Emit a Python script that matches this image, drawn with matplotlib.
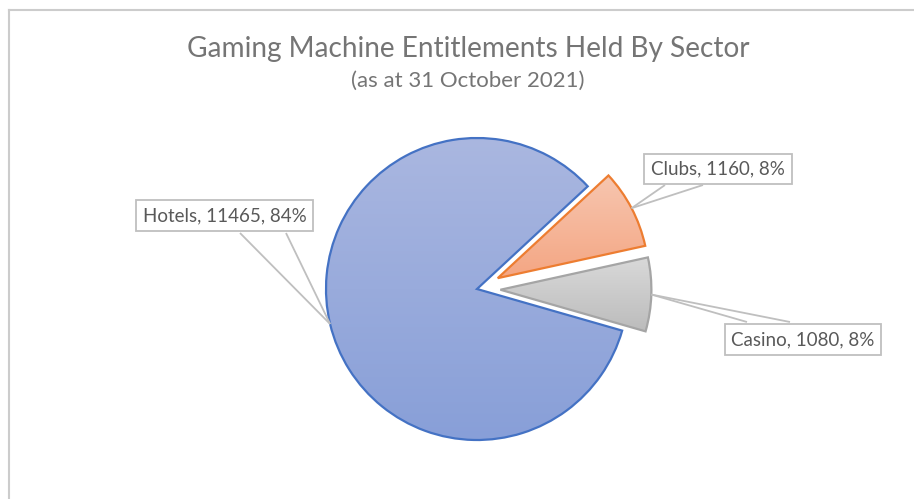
import numpy as np
import matplotlib.pyplot as plt
from matplotlib.colors import LinearSegmentedColormap
from matplotlib.lines import Line2D

categories = ["Hotels", "Clubs", "Casino"]
values = [11465, 1160, 1080]
pct_labels = ["84%", "8%", "8%"]
title = "Gaming Machine Entitlements Held By Sector"
subtitle = "(as at 31 October 2021)"

edge_colors = ["#4472c4", "#ed7d31", "#a5a5a5"]
grad_top = ["#aab7e0", "#f7c6b0", "#d9d9d9"]
grad_bot = ["#889fd8", "#f4a683", "#bcbcbc"]

W, H = 914, 499
FONT = ["Lato", "DejaVu Sans"]
plt.rcParams["font.family"] = FONT

fig = plt.figure(figsize=(W / 100, H / 100), dpi=100)
ax = fig.add_axes([0, 0, 1, 1])


def py(y):
    return H - y


R = 151
wedges, _ = ax.pie(values, center=(477, py(289)), radius=R, startangle=-16,
                   counterclock=False, explode=[0, 0.155 * R, 0.155 * R],
                   wedgeprops=dict(linewidth=1.6), frame=True)

for w, ec, ct, cb in zip(wedges, edge_colors, grad_top, grad_bot):
    ext = w.get_path().get_extents()
    cmap = LinearSegmentedColormap.from_list("g", [ct, cb])
    grad = np.linspace(0, 1, 256).reshape(-1, 1)
    im = ax.imshow(grad, extent=[ext.x0, ext.x1, ext.y0, ext.y1], origin="upper",
                   cmap=cmap, aspect="auto", zorder=1, interpolation="bilinear")
    im.set_clip_path(w)
    w.set_facecolor("none")
    w.set_edgecolor(ec)
    w.set_zorder(2)

# labels with callouts
box_centers = [(224.5, 215.5), (718, 169), (803, 339.5)]
callout_roots = [[(240, 233), (286, 233)], [(665, 185), (703, 185)], [(747, 322), (790, 322)]]
for w, cat, v, p, bc, roots in zip(wedges, categories, values, pct_labels, box_centers, callout_roots):
    mid = np.deg2rad((w.theta1 + w.theta2) / 2)
    ax_pt = (w.center[0] + w.r * np.cos(mid), w.center[1] + w.r * np.sin(mid))
    for rx, ry in roots:
        ax.plot([rx, ax_pt[0]], [py(ry), ax_pt[1]], color="#bfbfbf", lw=1.3, zorder=3,
                solid_capstyle="butt")
    ax.text(bc[0], py(bc[1]), f"{cat}, {v}, {p}", ha="center", va="center",
            fontsize=13.5, color="#595959", zorder=4,
            bbox=dict(boxstyle="square,pad=0.36", fc="white", ec="#bfbfbf", lw=1.3))

ax.set_xlim(0, W)
ax.set_ylim(0, H)
ax.axis("off")

fig.text(468 / W, 1 - 49 / H, title, ha="center", va="center", fontsize=20.2, color="#757575")
fig.text(468 / W, 1 - 81 / H, subtitle, ha="center", va="center", fontsize=16, color="#757575")

# chart area border
fig.add_artist(Line2D([9 / W, 1], [1 - 9.5 / H, 1 - 9.5 / H], color="#cccccc", lw=1.5,
                      transform=fig.transFigure))
fig.add_artist(Line2D([9 / W, 9 / W], [0, 1 - 9.5 / H], color="#cccccc", lw=1.5,
                      transform=fig.transFigure))

fig.savefig("out.png", dpi=100)
